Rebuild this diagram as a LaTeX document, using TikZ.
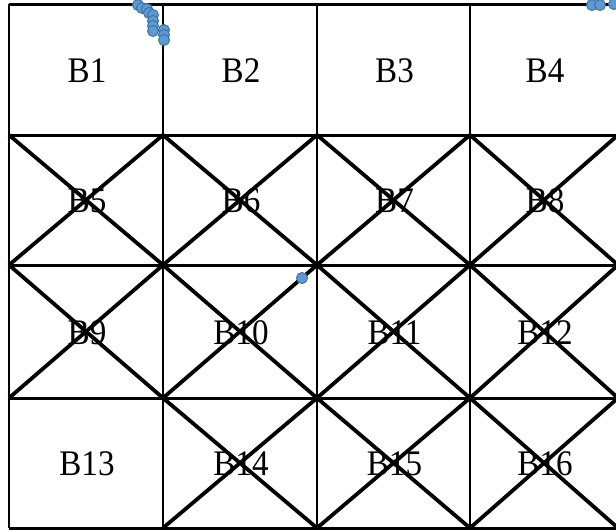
\documentclass[tikz,border=0pt]{standalone}
\usepackage{fontspec}
\setmainfont{Liberation Serif}
\usetikzlibrary{calc}
\definecolor{dotfill}{HTML}{5B9BD5}
\definecolor{dotline}{HTML}{41719C}
\tikzset{
  hline/.style={line width=3pt, black},
  vline/.style={line width=1.4pt, black},
  diag/.style={line width=3.8pt, black},
  lbl/.style={font=\fontsize{36}{36}\selectfont, inner sep=0pt, xscale=0.92, transform shape},
  dot/.style={circle, fill=dotfill, draw=dotline, line width=1pt, minimum size=11pt, inner sep=0pt}
}
\begin{document}
\begin{tikzpicture}[x=1pt,y=-1pt]
\useasboundingbox (0,0) rectangle (616,530);
\fill[white] (0,0) rectangle (616,530);
% named corners
\foreach \i/\x in {0/9,1/163,2/317,3/470,4/618}{
  \foreach \j/\y in {0/4,1/135,2/265,3/398,4/528}{
    \coordinate (c\i\j) at (\x,\y);
  }
}
% labels
\foreach \n/\i/\j in {1/0/0,2/1/0,3/2/0,4/3/0,5/0/1,6/1/1,7/2/1,8/3/1,9/0/2,10/1/2,11/2/2,12/3/2,13/0/3,14/1/3,15/2/3,16/3/3}{
  \pgfmathtruncatemacro{\ii}{\i+1}
  \pgfmathtruncatemacro{\jj}{\j+1}
  \node[lbl] (B\n) at ($(c\i\j)!0.5!(c\ii\jj)+(1,1)$) {B\n};
}
% vertical lines
\foreach \i in {1,2,3}{ \draw[vline] (c\i0) -- (c\i4); }
\draw[line width=2.2pt] (c00) -- (c04);
% horizontal lines
\foreach \j in {0,1,2,3,4}{ \draw[hline] (c0\j) -- (c4\j); }
% diagonals
\foreach \i/\j in {0/1,1/1,2/1,3/1,0/2,1/2,2/2,3/2,1/3,2/3,3/3}{
  \pgfmathtruncatemacro{\ii}{\i+1}
  \pgfmathtruncatemacro{\jj}{\j+1}
  \draw[diag] (c\i\j) -- (c\ii\jj);
  \draw[diag] (c\ii\j) -- (c\i\jj);
}
% dots
\foreach \k/\x/\y in {1/138/5,2/142/8,3/147/9,4/149/13,5/153/15,6/153/21,7/153/26,8/153/31,9/164/30,10/164/35,11/164/40,12/592/5,13/600/5,14/614/4,15/302/278}{
  \node[dot] (d\k) at (\x,\y) {};
}
\end{tikzpicture}
\end{document}
